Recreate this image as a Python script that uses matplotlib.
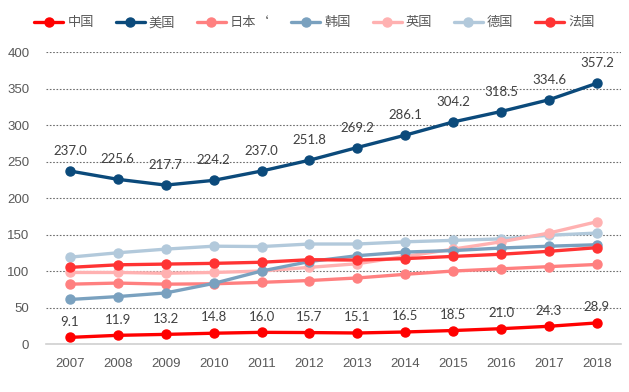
import matplotlib
matplotlib.use("Agg")
import matplotlib.pyplot as plt

years = [2007, 2008, 2009, 2010, 2011, 2012, 2013, 2014, 2015, 2016, 2017, 2018]
china = [9.1, 11.9, 13.2, 14.8, 16.0, 15.7, 15.1, 16.5, 18.5, 21.0, 24.3, 28.9]
usa = [237.0, 225.6, 217.7, 224.2, 237.0, 251.8, 269.2, 286.1, 304.2, 318.5, 334.6, 357.2]
japan = [82, 83.5, 82, 82.5, 84.5, 87, 90.5, 95.5, 100, 103, 106, 109]
korea = [61, 65, 70, 83, 100, 113, 121, 126, 128, 131.5, 134, 136]
uk = [98, 98, 97, 98, 100, 105, 110, 120, 130, 140, 152, 167.5]
germany = [119, 125, 130, 134, 133.5, 137, 137, 140, 142, 144, 149, 152]
france = [105, 108.5, 109.5, 110.5, 112, 115.5, 115, 117, 120, 123, 127, 132]

series = [
    ("中国", china, "#ff0000"),
    ("美国", usa, "#0b4a7b"),
    ("日本‘", japan, "#ff8080"),
    ("韩国", korea, "#7aa1bf"),
    ("英国", uk, "#ffb1b1"),
    ("德国", germany, "#b2c9db"),
    ("法国", france, "#ff3333"),
]

plt.rcParams['font.family'] = ['Noto Sans CJK SC', 'DejaVu Sans']

fig = plt.figure(figsize=(6.29, 3.92), dpi=100)
ax = fig.add_axes([0.0731, 0.1224, 0.9139, 0.7449])

zorders = [10, 9, 4, 5, 3, 2, 6]
for (name, vals, col), z in zip(series, zorders):
    ax.plot(years, vals, color=col, lw=2.4, marker='o', ms=6.5, label=name,
            zorder=z, solid_capstyle='round')

for x, v in zip(years, china):
    ax.annotate(f"{v:.1f}", (x, v), xytext=(0, 7), textcoords='offset points',
                ha='center', va='bottom', fontsize=9.5, color='#404040',
                family=['Lato', 'DejaVu Sans'], zorder=12)
for x, v in zip(years, usa):
    ax.annotate(f"{v:.1f}", (x, v), xytext=(0, 10), textcoords='offset points',
                ha='center', va='bottom', fontsize=9.5, color='#404040',
                family=['Lato', 'DejaVu Sans'], zorder=12)

ax.set_xlim(2006.5, 2018.5)
ax.set_ylim(0, 400)
ax.set_yticks(range(0, 401, 50))
ax.set_xticks(years)
ax.set_xticklabels([str(y) for y in years])
ax.yaxis.grid(True, linestyle=(0, (1.5, 1.5)), color='#6e6e6e', lw=0.8)
ax.set_axisbelow(True)
for s in ['top', 'right', 'left']:
    ax.spines[s].set_visible(False)
ax.spines['bottom'].set_color('#d0d0d0')
ax.spines['bottom'].set_linewidth(1.2)
ax.tick_params(axis='both', length=0, labelsize=9.5, labelcolor='#595959', pad=10)
for lab in ax.get_xticklabels() + ax.get_yticklabels():
    lab.set_family(['Liberation Sans', 'DejaVu Sans'])
ax.tick_params(axis='y', pad=12)

leg = fig.legend(loc='center', bbox_to_anchor=(0.5, 0.942), ncol=7, frameon=False,
                 fontsize=9.5, handlelength=2.2, columnspacing=1.65, handletextpad=0.3,
                 labelcolor='#595959')

fig.savefig("out.png", dpi=100)
